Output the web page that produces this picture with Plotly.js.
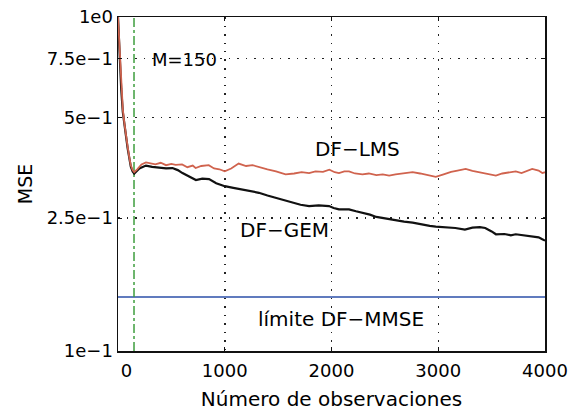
<!DOCTYPE html>
<html>
<head>
<meta charset="utf-8">
<script src="https://cdn.plot.ly/plotly-3.0.1.min.js"></script>
<style>html,body{margin:0;padding:0;background:#fff;}#chart{width:570px;height:412px;}</style>
</head>
<body>
<div id="chart"></div>
<script>
// DF-LMS (red)
const lmsX = [0,10,20,30,45,60,75,90,106,120,137,152,180,220,262,300,350,400,450,500,540,600,650,700,727,780,850,900,950,1000,1060,1130,1200,1260,1320,1400,1480,1530,1570,1650,1720,1790,1850,1920,1980,2030,2070,2120,2164,2220,2290,2350,2420,2480,2540,2600,2680,2760,2830,2900,2977,3050,3120,3180,3257,3320,3400,3460,3540,3600,3660,3726,3780,3830,3880,3940,3975,4000];
const lmsY = [1.0,0.85,0.72,0.62,0.53,0.48,0.45,0.41,0.38,0.36,0.348,0.343,0.35,0.362,0.367,0.365,0.362,0.366,0.36,0.363,0.361,0.362,0.355,0.359,0.353,0.358,0.36,0.352,0.35,0.345,0.352,0.364,0.358,0.36,0.355,0.35,0.345,0.342,0.338,0.34,0.343,0.341,0.345,0.344,0.349,0.343,0.341,0.345,0.345,0.34,0.338,0.34,0.336,0.338,0.335,0.338,0.34,0.343,0.34,0.336,0.332,0.338,0.344,0.347,0.351,0.346,0.342,0.338,0.335,0.34,0.343,0.345,0.341,0.346,0.351,0.347,0.341,0.343];
// DF-GEM (black)
const gemX = [0,10,20,30,45,60,75,90,106,120,137,152,200,262,320,390,450,510,560,604,660,730,790,853,920,1000,1080,1164,1240,1320,1400,1480,1560,1633,1710,1790,1880,1977,2020,2070,2164,2230,2290,2360,2420,2480,2540,2600,2680,2760,2850,2920,2977,3050,3160,3250,3320,3390,3440,3500,3540,3620,3680,3726,3800,3880,3940,3975,4000];
const gemY = [1.0,0.84,0.71,0.61,0.52,0.47,0.44,0.405,0.375,0.356,0.345,0.34,0.352,0.359,0.356,0.353,0.352,0.353,0.348,0.341,0.333,0.325,0.328,0.327,0.318,0.3115,0.308,0.3045,0.301,0.2976,0.292,0.2876,0.282,0.278,0.274,0.2716,0.273,0.2716,0.268,0.2654,0.2654,0.262,0.2595,0.256,0.252,0.25,0.2478,0.246,0.244,0.2423,0.239,0.237,0.2357,0.235,0.2335,0.231,0.234,0.235,0.2335,0.228,0.2236,0.224,0.222,0.2236,0.222,0.221,0.219,0.216,0.214];
// DF-MMSE limit
const mmseX = [0,4000];
const mmseY = [0.145,0.145];
// M marker
const M = 150;
const mLineY = [0.1,1];
// ticks
const xTickVals = [0,1000,2000,3000,4000];
const xTickText = ['\u00a0\u00a0\u00a00','1000','2000','3000','4000'];
const yTickVals = [0.1,0.25,0.5,0.75,1];
const yTickText = ['1e\u22121','2.5e\u22121','5e\u22121','7.5e\u22121','1e0'];

const fam = 'DejaVu Sans, Arial, sans-serif';
const tickFont = {family:fam, size:18, color:'#000'};
const bigFont = {family:fam, size:20, color:'#000'};

const traces = [
  {x:mmseX, y:mmseY, mode:'lines', line:{color:'#2b4fa8', width:1.5}, hoverinfo:'skip'},
  {x:[M,M], y:mLineY, mode:'lines', line:{color:'#3e9e3e', width:1.5, dash:'dashdot'}, hoverinfo:'skip'},
  {x:gemX, y:gemY, mode:'lines', line:{color:'#111', width:2.2}, hoverinfo:'skip'},
  {x:lmsX, y:lmsY, mode:'lines', line:{color:'#d0634e', width:1.8}, hoverinfo:'skip'}
];

const layout = {
  width:570, height:412,
  margin:{l:118, r:25, t:17, b:61},
  paper_bgcolor:'#fff', plot_bgcolor:'#fff',
  showlegend:false,
  font:tickFont,
  xaxis:{
    range:[0,4000], tickvals:xTickVals, ticktext:xTickText,
    showline:true, linecolor:'#111', linewidth:1.5, mirror:'ticks',
    ticks:'inside', ticklen:4, tickcolor:'#111', ticklabelstandoff:3,
    showgrid:true, gridcolor:'#222', gridwidth:1.5, griddash:'1.5px,7px',
    zeroline:false, tickfont:tickFont,
    title:{text:'Número de observaciones', font:bigFont, standoff:12}
  },
  yaxis:{
    type:'log', range:[-1,0], tickvals:yTickVals, ticktext:yTickText,
    showline:true, linecolor:'#111', linewidth:1.5, mirror:'ticks',
    ticks:'inside', ticklen:4, tickcolor:'#111',
    showgrid:true, gridcolor:'#222', gridwidth:1.5, griddash:'1.5px,7px',
    zeroline:false, tickfont:tickFont,
    title:{text:'MSE', font:{family:fam, size:19, color:'#000'}, standoff:9}
  },
  annotations:[
    {x:620, y:Math.log10(0.745), xref:'x', yref:'y', text:'M=150', showarrow:false, font:tickFont},
    {x:2246, y:Math.log10(0.402), xref:'x', yref:'y', text:'DF\u2212LMS', showarrow:false, font:bigFont},
    {x:1564, y:Math.log10(0.2298), xref:'x', yref:'y', text:'DF\u2212GEM', showarrow:false, font:bigFont},
    {x:2087, y:Math.log10(0.1246), xref:'x', yref:'y', text:'límite DF\u2212MMSE', showarrow:false, font:bigFont}
  ]
};

Plotly.newPlot('chart', traces, layout, {displayModeBar:false, staticPlot:true});
</script>
</body>
</html>
